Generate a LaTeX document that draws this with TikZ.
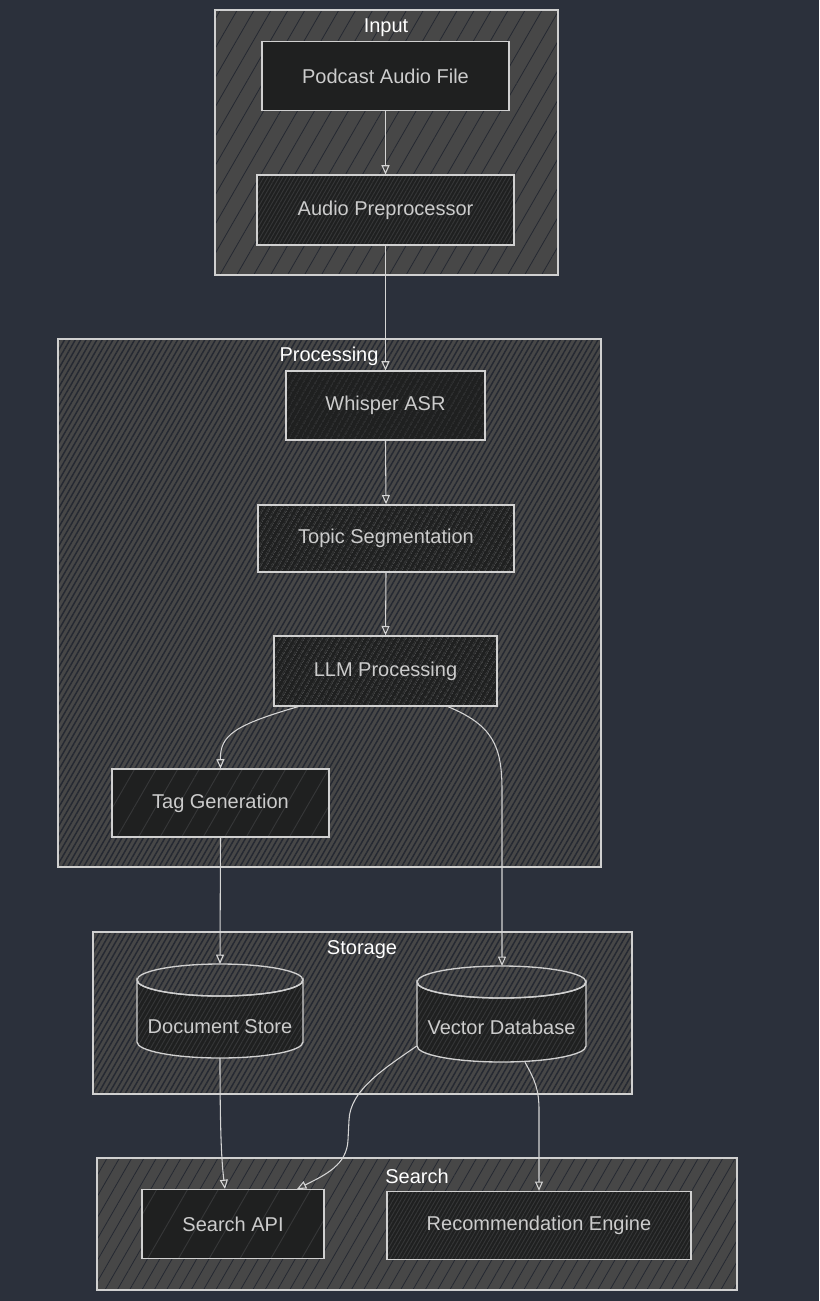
\documentclass[tikz,border=0pt]{standalone}
\usepackage{fontspec}
\setmainfont{Liberation Sans}
\usetikzlibrary{arrows.meta,patterns.meta,calc}
\definecolor{bg}{HTML}{2B303B}
\definecolor{clfill}{HTML}{474747}
\definecolor{nodefill}{HTML}{1F2020}
\definecolor{hatchc}{HTML}{363738}
\definecolor{strokec}{HTML}{D0D0D0}
\definecolor{txt}{HTML}{CCCCCC}
\def\px{0.75pt}
\tikzset{
  cluster/.style 2 args={draw=strokec, line width=1.1pt, preaction={fill=clfill},
    pattern={Lines[angle=60,distance=#1,line width=#2]}, pattern color=bg!85!black,
    inner sep=0pt},
  boxnode/.style={draw=strokec, line width=1pt, preaction={fill=nodefill},
    pattern={Lines[angle=60,distance=#1,line width=0.7pt]}, pattern color=hatchc,
    text=txt, inner sep=0pt, font=\fontsize{15}{18}\selectfont},
  boxnode/.default=8pt,
  solidnode/.style={draw=strokec, line width=1pt, fill=nodefill,
    text=txt, inner sep=0pt, font=\fontsize{15}{18}\selectfont},
  cyl/.style={draw=strokec, line width=1pt, preaction={fill=nodefill},
    pattern={Lines[angle=60,distance=3pt,line width=0.7pt]}, pattern color=hatchc},
  cltitle/.style={text=white, font=\fontsize{15}{18}\selectfont, inner sep=0pt},
  lbl/.style={text=txt, font=\fontsize{15}{18}\selectfont, inner sep=0pt},
  edge/.style={draw=strokec!90, line width=0.8pt, -{Triangle[open,length=7pt,width=6pt]}},
}
\begin{document}
\begin{tikzpicture}[x=0.75pt,y=-0.75pt]
\fill[bg] (0,0) rectangle (819,1301);
\useasboundingbox (0,0) rectangle (819,1301);

% clusters
\node[cluster={11pt}{0.6pt}, minimum width=343*\px, minimum height=265*\px] (cinput) at (386.5,142.5) {};
\node[cltitle] (tinput) at (386,28) {Input};
\node[cluster={3.5pt}{1.1pt}, minimum width=543*\px, minimum height=528*\px] (cproc) at (329.5,603) {};
\node[cltitle] (tproc) at (329,356) {Processing};
\node[cluster={3.5pt}{1.1pt}, minimum width=539*\px, minimum height=162*\px] (cstore) at (362.5,1013) {};
\node[cltitle] (tstore) at (362,950) {Storage};
\node[cluster={8pt}{0.6pt}, minimum width=640*\px, minimum height=132*\px] (csearch) at (417,1224) {};
\node[cltitle] (tsearch) at (417,1176) {Search};

% nodes
\node[solidnode, minimum width=247*\px, minimum height=69*\px] (podcast) at (385.5,76) {Podcast Audio File};
\node[boxnode=2.5pt, minimum width=257*\px, minimum height=70*\px] (prep) at (385.5,210) {Audio Preprocessor};
\node[boxnode=4pt, minimum width=199*\px, minimum height=69*\px] (whisper) at (385.5,405.5) {Whisper ASR};
\node[boxnode=4pt, minimum width=256*\px, minimum height=67*\px] (topic) at (386,538.5) {Topic Segmentation};
\node[boxnode=4pt, minimum width=223*\px, minimum height=70*\px] (llm) at (385.5,671) {LLM Processing};
\node[boxnode=14pt, minimum width=217*\px, minimum height=68*\px] (tag) at (220.5,803) {Tag Generation};
\node[boxnode=20pt, minimum width=182*\px, minimum height=69*\px] (api) at (233,1224) {Search API};
\node[boxnode=2.5pt, minimum width=304*\px, minimum height=68*\px] (rec) at (539,1225.5) {Recommendation Engine};

% cylinders
\path[cyl]
  (137,980) -- (137,1042) arc[start angle=180,end angle=0,x radius=83,y radius=16] -- (303,980)
  arc[start angle=0,end angle=180,x radius=83,y radius=16] -- cycle;
\draw[strokec, line width=1pt] (220,980) ellipse[x radius=83, y radius=16];
\node[minimum width=166*\px, minimum height=94*\px, inner sep=0pt] (doc) at (220,1011) {};
\node[lbl] (doclbl) at (220,1027) {Document Store};
\coordinate (doctop) at (220,964);
\coordinate (docbot) at (220,1058);

\path[cyl]
  (417,982) -- (417,1046) arc[start angle=180,end angle=0,x radius=84.5,y radius=16] -- (586,982)
  arc[start angle=0,end angle=180,x radius=84.5,y radius=16] -- cycle;
\draw[strokec, line width=1pt] (501.5,982) ellipse[x radius=84.5, y radius=16];
\node[minimum width=169*\px, minimum height=96*\px, inner sep=0pt] (vec) at (501.5,1014) {};
\node[lbl] (veclbl) at (501.5,1027) {Vector Database};
\coordinate (vectop) at (502,966);

% edges
\draw[edge] (podcast.south) -- (prep.north);
\draw[edge] (prep.south) -- (whisper.north);
\draw[edge] (whisper.south) -- (topic.north);
\draw[edge] (topic.south) -- (llm.north);
\draw[edge] ($(llm.south)+(-87.5,0)$) .. controls (235,725) and (220,735) .. (tag.north);
\draw[edge] ($(llm.south)+(62.5,0)$) .. controls (492,725) and (502,745) .. (502,790) -- (vectop);
\draw[edge] (tag.south) -- (doctop);
\draw[edge] (docbot) .. controls (220,1140) and (222,1165) .. ($(api.north)+(-8,0)$);
\draw[edge] ($(vec.west)+(0,32)$) .. controls (385,1068) and (350,1090) .. (349,1120) -- (348,1140)
  .. controls (347,1165) and (325,1175) .. ($(api.north)+(64,0)$);
\draw[edge] ($(vec.south)+(23.5,0)$) .. controls (535,1080) and (539,1090) .. (539,1110) -- (rec.north);
\end{tikzpicture}
\end{document}
